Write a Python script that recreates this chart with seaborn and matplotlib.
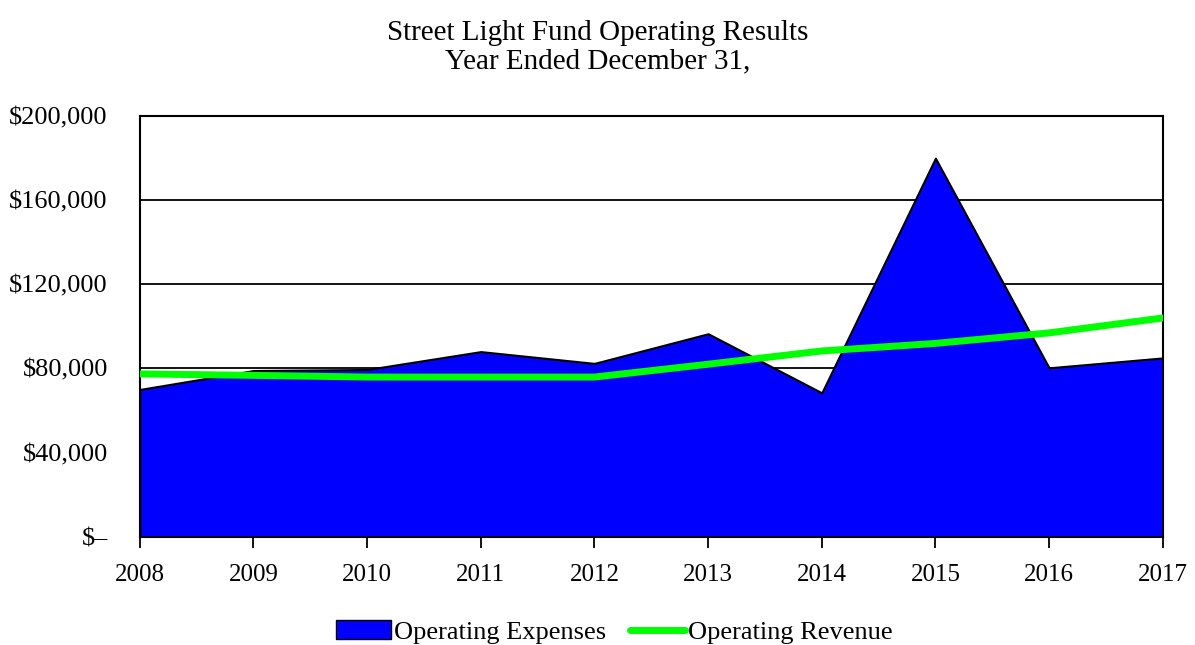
import numpy as np
import pandas as pd
import seaborn as sns
import matplotlib.pyplot as plt
from matplotlib.ticker import FuncFormatter
from matplotlib.patches import Patch
from matplotlib.lines import Line2D

# Data
years = [2008, 2009, 2010, 2011, 2012, 2013, 2014, 2015, 2016, 2017]
expenses = [70000, 79000, 79500, 88000, 82400, 96500, 68400, 180000, 80300, 85000]
revenue = [77400, 76700, 75900, 75900, 75900, 82000, 88300, 91900, 96900, 104000]

df = pd.DataFrame({'year': years, 'expenses': expenses, 'revenue': revenue})

sns.set_theme(style='white')
plt.rcParams['font.family'] = ['Liberation Serif', 'DejaVu Serif']
plt.rcParams['text.color'] = 'black'

fig = plt.figure(figsize=(11.95, 6.45), dpi=100)
ax = fig.add_axes([0.117, 0.168, 0.856, 0.652])

# gridlines behind the area
ax.set_axisbelow(True)
ax.yaxis.grid(True, color='black', linewidth=1.3)

ax.fill_between(df['year'], df['expenses'], 0, color='#0000FF',
                edgecolor='black', linewidth=1.5, zorder=2)
sns.lineplot(data=df, x='year', y='revenue', color='#00FF00', linewidth=5,
             ax=ax, zorder=3)

ax.set_xlim(2008, 2017)
ax.set_ylim(0, 200000)
ax.set_xticks(years)
ax.set_yticks([0, 40000, 80000, 120000, 160000, 200000])


def money(v, pos):
    if v == 0:
        return '$\u2013'
    return '${:,.0f}'.format(v)


ax.yaxis.set_major_formatter(FuncFormatter(money))
ax.tick_params(axis='x', direction='out', length=8, width=1.3, color='black',
               bottom=True, labelsize=18, pad=12, labelcolor='black')
ax.tick_params(axis='y', length=0, labelsize=19, pad=23, labelcolor='black')
ax.set_xlabel('')
ax.set_ylabel('')

for s in ax.spines.values():
    s.set_color('black')
    s.set_linewidth(1.5)
    s.set_visible(True)

fig.text(0.5, 0.949, 'Street Light Fund Operating Results', ha='center',
         va='center', fontsize=21, color='black')
fig.text(0.5, 0.905, 'Year Ended December 31,', ha='center',
         va='center', fontsize=21, color='black')

handles = [Patch(facecolor='#0000FF', edgecolor='black', linewidth=1.0),
           Line2D([0], [0], color='#00FF00', linewidth=5)]
leg = fig.legend(handles, ['Operating Expenses', 'Operating Revenue'],
                 loc='center', bbox_to_anchor=(0.514, 0.020), ncol=2,
                 frameon=False, fontsize=19, handlelength=2.1,
                 handletextpad=0.1, columnspacing=0.9)
for t in leg.get_texts():
    t.set_color('black')

fig.savefig('out.png', dpi=100)
